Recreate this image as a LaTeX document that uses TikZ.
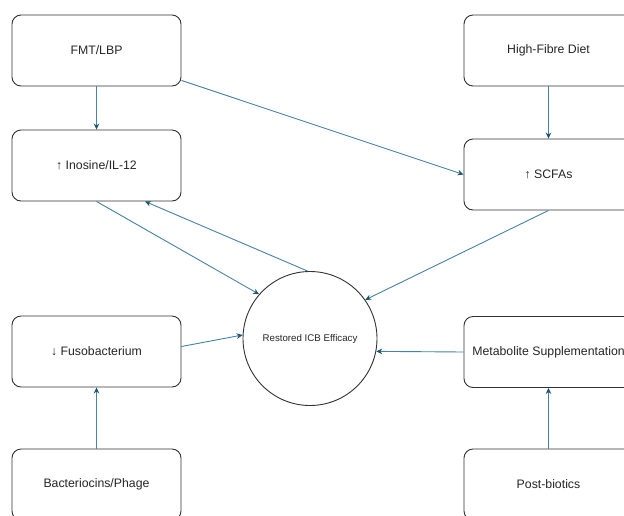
\documentclass[tikz,border=0pt]{standalone}
\usepackage{fontspec}
\setmainfont{Liberation Sans}
\usetikzlibrary{arrows.meta,calc}
\definecolor{linec}{RGB}{70,130,165}
\definecolor{tipc}{RGB}{30,85,115}
\definecolor{boxc}{RGB}{50,50,50}
\begin{document}
\begin{tikzpicture}[x=1pt,y=-1pt,
  boxnode/.style={draw=boxc,line width=0.9pt,rounded corners=9pt,minimum width=169pt,minimum height=71pt,inner sep=0pt,font=\fontsize{12.3}{14}\selectfont,text=black!85},
  circnode/.style={draw=boxc,line width=0.9pt,circle,minimum size=134pt,inner sep=0pt,font=\fontsize{9.7}{12}\selectfont,text=black!85},
  conn/.style={draw=linec,line width=0.9pt,-{Stealth[length=6pt,width=5.5pt,color=tipc]}}]
\useasboundingbox (0,0) rectangle (624,515);
\fill[white] (0,0) rectangle (624,515);
\node[boxnode] (fmt) at (96.5,50.5) {FMT/LBP};
\node[boxnode] (ino) at (96.5,165.5) {↑ Inosine/IL-12};
\node[boxnode] (fuso) at (96.5,351.5) {↓ Fusobacterium};
\node[boxnode] (bact) at (96.5,484.5) {Bacteriocins/Phage};
\node[boxnode] (hf) at (548.5,50.5) {High-Fibre Diet};
\node[boxnode] (scfa) at (548.5,174.5) {↑ SCFAs};
\node[boxnode] (meta) at (548.5,352) {Metabolite Supplementation};
\node[boxnode] (post) at (548.5,484.5) {Post-biotics};
\node[circnode] (circ) at (310,338.5) {Restored ICB Efficacy};
\coordinate (fmtout) at ($(fmt.south east)+(0,-6)$);
\coordinate (inoin) at ($(ino.south)+(48.5,0)$);
\coordinate (fusoout) at ($(fuso.east)+(0,-5)$);
\draw[conn] (fmt.south) -- (ino.north);
\draw[conn] (fmtout) -- (scfa.west);
\draw[conn] (hf.south) -- (scfa.north);
\draw[conn] (ino.south) -- (circ.139);
\draw[conn] (circ.92) -- (inoin);
\draw[conn] (scfa.south) -- (circ.35);
\draw[conn] (fusoout) -- (circ.177);
\draw[conn] (meta.west) -- (circ.-11);
\draw[conn] (bact.north) -- (fuso.south);
\draw[conn] (post.north) -- (meta.south);
\end{tikzpicture}
\end{document}
